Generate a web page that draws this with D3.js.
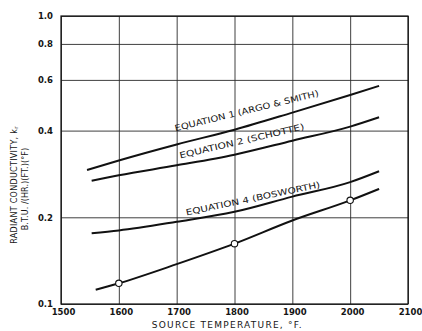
<!DOCTYPE html>
<html>
<head>
<meta charset="utf-8">
<script src="https://cdn.jsdelivr.net/npm/d3@7"></script>
<style>
  html, body { margin: 0; padding: 0; background: #fff; }
  svg { display: block; }
  text { font-family: "DejaVu Sans", sans-serif; fill: #151515; }
</style>
</head>
<body>
<script>
// Axis ticks
const xTicks = [1500, 1600, 1700, 1800, 1900, 2000, 2100];
const yTicks = [0.1, 0.2, 0.4, 0.6, 0.8, 1.0];

// Equation 1 (Argo & Smith)
const eq1Temps = [1545, 1600, 1700, 1800, 1900, 2000, 2050];
const eq1Values = [0.292, 0.315, 0.358, 0.403, 0.462, 0.532, 0.572];

// Equation 2 (Schotte)
const eq2Temps = [1553, 1600, 1700, 1800, 1900, 2000, 2050];
const eq2Values = [0.268, 0.280, 0.303, 0.330, 0.369, 0.413, 0.445];

// Equation 4 (Bosworth)
const eq4Temps = [1553, 1600, 1700, 1800, 1900, 2000, 2050];
const eq4Values = [0.176, 0.180, 0.193, 0.209, 0.236, 0.265, 0.289];

// measured curve (with circles)
const measTemps = [1560, 1600, 1700, 1800, 1900, 2000, 2050];
const measValues = [0.112, 0.118, 0.1375, 0.162, 0.195, 0.229, 0.251];
const pointTemps = [1600, 1800, 2000];
const pointValues = [0.118, 0.162, 0.229];

const seriesNames = ["EQUATION 1 (ARGO & SMITH)", "EQUATION 2 (SCHOTTE)", "EQUATION 4 (BOSWORTH)"];

const margin = { top: 16, right: 14, bottom: 27, left: 61 },
      width = 422 - margin.left - margin.right,
      height = 331 - margin.top - margin.bottom;

const svg = d3.select("body").append("svg")
    .attr("width", 422)
    .attr("height", 331)
  .append("g")
    .attr("transform", "translate(" + margin.left + "," + margin.top + ")");

const x = d3.scaleLinear().domain([1500, 2100]).range([0, width]);
const y = d3.scaleLog().domain([0.1, 1.0]).range([height, 0]);

// grid + tick labels
const xAxis = svg.append("g")
    .attr("transform", "translate(0," + height + ")")
    .call(d3.axisBottom(x).tickValues(xTicks).tickSize(-height).tickPadding(5).tickFormat(d3.format("d")));
const yAxis = svg.append("g")
    .call(d3.axisLeft(y).tickValues(yTicks).tickSize(-width).tickPadding(8).tickFormat(d => d.toFixed(1)));

[xAxis, yAxis].forEach(a => {
  a.select(".domain").remove();
  a.selectAll(".tick line").attr("stroke", "#2a2a2a").attr("stroke-width", 0.9);
  a.selectAll(".tick text").attr("fill", "#151515")
      .style("font-size", "8.5px").style("font-weight", "bold");
});
xAxis.selectAll(".tick text").attr("dx", 2);

svg.append("rect")
    .attr("width", width).attr("height", height)
    .attr("fill", "none").attr("stroke", "#111").attr("stroke-width", 1.2);

// curves
const curves = [
  [eq1Temps, eq1Values],
  [eq2Temps, eq2Values],
  [eq4Temps, eq4Values],
  [measTemps, measValues]
];
curves.forEach(c => {
  svg.append("path")
      .datum(d3.zip(c[0], c[1]))
      .attr("fill", "none")
      .attr("stroke", "#111")
      .attr("stroke-width", 2)
      .attr("d", d3.line().x(d => x(d[0])).y(d => y(d[1])).curve(d3.curveMonotoneX));
});

svg.selectAll("circle.pt")
    .data(d3.zip(pointTemps, pointValues))
  .join("circle")
    .attr("class", "pt")
    .attr("cx", d => x(d[0]))
    .attr("cy", d => y(d[1]))
    .attr("r", 3.2)
    .attr("fill", "#fff")
    .attr("stroke", "#111")
    .attr("stroke-width", 1.1);

// curve labels, set along the lines
const labelPlace = [
  { t: 1698, v: 0.398, angle: -13.8, len: 148 },
  { t: 1706, v: 0.320, angle: -13.2, len: 128 },
  { t: 1717, v: 0.203, angle: -11.8, len: 137 }
];
seriesNames.forEach((name, i) => {
  const p = labelPlace[i];
  svg.append("text")
      .attr("transform", "translate(" + x(p.t) + "," + y(p.v) + ") rotate(" + p.angle + ")")
      .attr("textLength", p.len)
      .attr("lengthAdjust", "spacingAndGlyphs")
      .style("font-size", "8.5px")
      .text(name);
});

// axis titles
svg.append("text")
    .attr("x", x(1790) - 2)
    .attr("y", height + 24)
    .attr("text-anchor", "middle")
    .attr("textLength", 150)
    .style("font-size", "9px")
    .text("SOURCE  TEMPERATURE, °F.");

const yTitle = svg.append("text")
    .attr("transform", "translate(" + (14 - margin.left) + "," + (185 - margin.top) + ") rotate(-90)")
    .attr("text-anchor", "middle")
    .style("font-size", "8px")
    .style("letter-spacing", "0.3px");
yTitle.append("tspan").attr("dy", "0.35em").text("RADIANT  CONDUCTIVITY, k");
yTitle.append("tspan").attr("dy", "0.25em").style("font-size", "5.5px").text("r");

svg.append("text")
    .attr("transform", "translate(" + (25 - margin.left) + "," + (189 - margin.top) + ") rotate(-90)")
    .attr("text-anchor", "middle")
    .attr("dy", "0.35em")
    .style("font-size", "8px")
    .style("letter-spacing", "0.1px")
    .text("B.T.U. /(HR.)(FT.)(°F)");
</script>
</body>
</html>
